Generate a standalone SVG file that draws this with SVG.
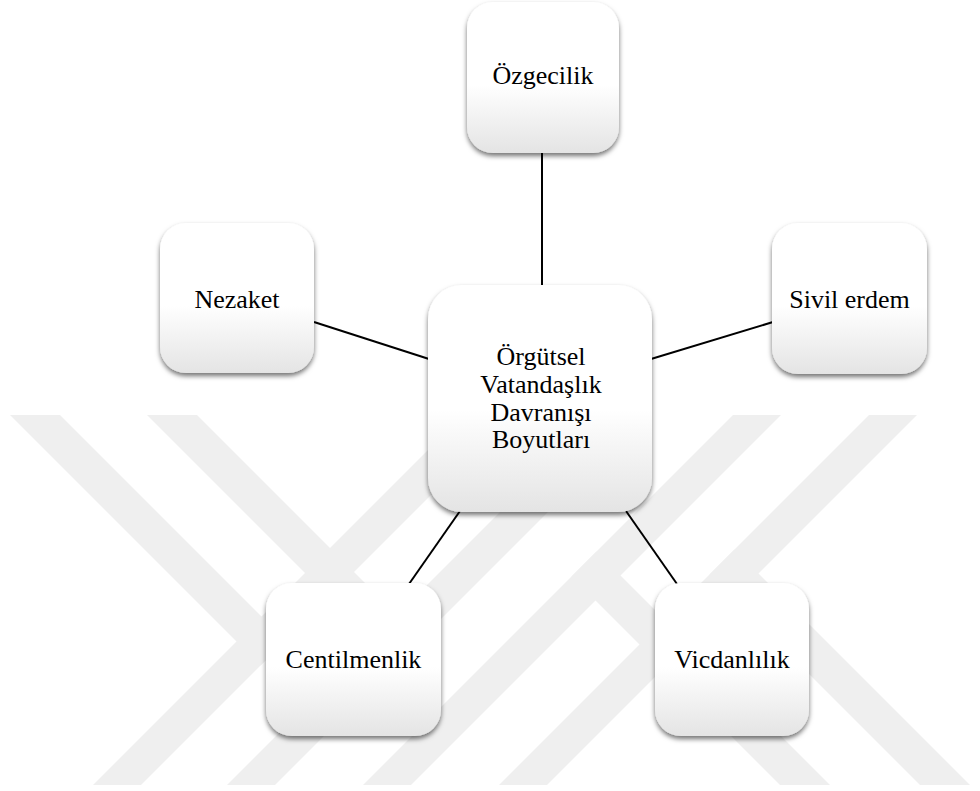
<svg xmlns="http://www.w3.org/2000/svg" width="980" height="791" viewBox="0 0 980 791">
  <defs>
    <linearGradient id="boxGrad" x1="0" y1="0" x2="0" y2="1">
      <stop offset="0" stop-color="#ffffff"/>
      <stop offset="0.55" stop-color="#ffffff"/>
      <stop offset="1" stop-color="#e4e4e4"/>
    </linearGradient>
    <filter id="shadow" x="-10%" y="-10%" width="120%" height="125%">
      <feDropShadow dx="0" dy="3" stdDeviation="2.5" flood-color="#000000" flood-opacity="0.55"/>
    </filter>
    <style>
      .box { fill: url(#boxGrad); filter: url(#shadow); }
      .lbl { font-family: "Liberation Serif", "Times New Roman", serif; font-size: 26px; fill: #000000; text-anchor: middle; }
      .conn line { stroke: #000000; stroke-width: 2; }
      .wm { fill: #efefef; }
    </style>
  </defs>
  <rect x="0" y="0" width="980" height="791" fill="#ffffff"/>

  <g id="watermark" class="wm">
    <polygon points="10,415 60,415 285.5,640.5 260.5,665.5"/>
    <polygon points="147,415 197,415 421,639 396,664"/>
    <polygon points="463,415 511,415 141,785 93,785"/>
    <polygon points="597,415 645,415 275,785 227,785"/>
    <polygon points="733,415 781,415 411,785 363,785"/>
    <polygon points="869,415 917,415 547,785 499,785"/>
    <polygon points="596.5,551.5 830,785 780,785 571.5,576.5"/>
    <polygon points="734.5,549.5 970,785 920,785 709.5,574.5"/>
  </g>

  <g id="connectors" class="conn">
    <line x1="542" y1="153" x2="542" y2="286"/>
    <line x1="314" y1="322" x2="429" y2="359"/>
    <line x1="651" y1="359" x2="773" y2="322"/>
    <line x1="460" y1="511" x2="409" y2="584"/>
    <line x1="626" y1="511" x2="677" y2="584"/>
  </g>

  <g id="node-ozgecilik">
    <rect class="box" x="467" y="2" width="152" height="151" rx="26"/>
    <text class="lbl" x="543" y="84">Özgecilik</text>
  </g>
  <g id="node-nezaket">
    <rect class="box" x="160" y="223" width="154" height="150" rx="26"/>
    <text class="lbl" x="237" y="308">Nezaket</text>
  </g>
  <g id="node-sivil-erdem">
    <rect class="box" x="772" y="223" width="155" height="151" rx="26"/>
    <text class="lbl" x="849.5" y="308">Sivil erdem</text>
  </g>
  <g id="node-center">
    <rect class="box" x="428" y="285" width="224" height="227" rx="34"/>
    <text class="lbl" x="541" y="365">Örgütsel</text>
    <text class="lbl" x="541" y="393">Vatandaşlık</text>
    <text class="lbl" x="541" y="420.5">Davranışı</text>
    <text class="lbl" x="541" y="448">Boyutları</text>
  </g>
  <g id="node-centilmenlik">
    <rect class="box" x="266" y="583" width="175" height="153" rx="26"/>
    <text class="lbl" x="353.5" y="668">Centilmenlik</text>
  </g>
  <g id="node-vicdanlilik">
    <rect class="box" x="655" y="583" width="154" height="153" rx="26"/>
    <text class="lbl" x="732" y="668">Vicdanlılık</text>
  </g>
</svg>
